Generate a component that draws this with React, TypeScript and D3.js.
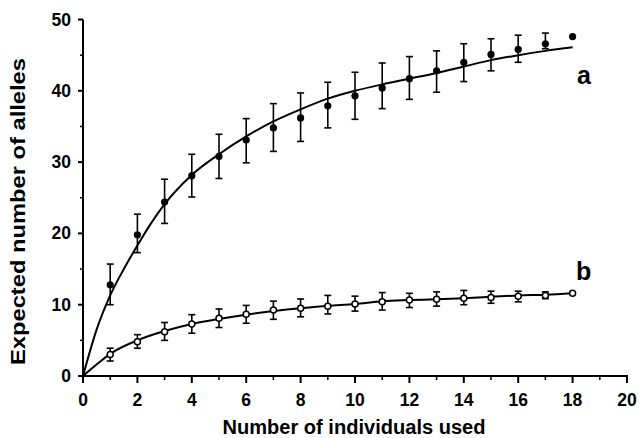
import React from "react";
import * as d3 from "d3";

const xs = [1, 2, 3, 4, 5, 6, 7, 8, 9, 10, 11, 12, 13, 14, 15, 16, 17];
const aMean = [12.8, 19.8, 24.4, 28.1, 30.8, 33.1, 34.8, 36.2, 37.9, 39.3, 40.4, 41.7, 42.8, 44.0, 45.1, 45.8, 46.6];
const aHigh = [15.7, 22.7, 27.6, 31.1, 33.9, 36.1, 38.2, 39.7, 41.2, 42.6, 43.9, 44.8, 45.6, 46.6, 47.3, 47.8, 48.1];
const aLow = [10.0, 17.3, 21.4, 25.1, 27.7, 29.9, 31.5, 32.9, 34.8, 36.0, 37.5, 38.8, 39.8, 41.3, 42.8, 44.0, 45.9];
const bMean = [3.0, 4.8, 6.2, 7.3, 8.1, 8.65, 9.25, 9.5, 9.8, 10.1, 10.4, 10.65, 10.75, 10.9, 11.0, 11.2, 11.3];
const bHigh = [3.9, 5.8, 7.5, 8.6, 9.4, 9.9, 10.5, 10.8, 11.3, 11.2, 11.7, 11.6, 11.8, 12.0, 11.9, 11.9, 11.8];
const bLow = [2.1, 3.9, 5.0, 6.0, 6.8, 7.4, 7.95, 8.3, 8.7, 9.1, 9.25, 9.6, 9.8, 10.0, 10.2, 10.4, 10.85];
const endX = 18;
const aEnd = 47.6;
const bEnd = 11.6;

const curveAX = [0, 0.5, 1, 1.5, 2, 2.5, 3, 4, 5, 6, 7, 8, 9, 10, 11, 12, 13, 14, 15, 16, 17, 18];
const curveAY = [0, 6.5, 11.3, 15.0, 18.3, 21.4, 24.1, 28.2, 31.1, 33.6, 35.7, 37.4, 38.9, 40.0, 40.9, 41.7, 42.5, 43.4, 44.3, 45.0, 45.6, 46.1];
const curveBX = [0, 0.5, 1, 2, 3, 4, 5, 6, 7, 8, 9, 10, 11, 12, 13, 14, 15, 16, 17, 18];
const curveBY = [0, 1.6, 3.1, 5.0, 6.3, 7.3, 8.0, 8.6, 9.1, 9.5, 9.85, 10.1, 10.5, 10.65, 10.75, 10.9, 11.1, 11.3, 11.4, 11.6];

const xMajor = [0, 2, 4, 6, 8, 10, 12, 14, 16, 18, 20];
const xMinor = [1, 3, 5, 7, 9, 11, 13, 15, 17, 19];
const yMajor = [0, 10, 20, 30, 40, 50];
const yMinor = [5, 15, 25, 35, 45];

const FONT = "'Liberation Sans', Arial, Helvetica, sans-serif";

export default function App() {
  const x = d3.scaleLinear().domain([0, 20]).range([83, 627]);
  const y = d3.scaleLinear().domain([0, 50]).range([376, 19.5]);
  const line = d3
    .line<[number, number]>()
    .x((d) => x(d[0]))
    .y((d) => y(d[1]))
    .curve(d3.curveMonotoneX);
  const aPath = line(curveAX.map((v, i) => [v, curveAY[i]]));
  const bPath = line(curveBX.map((v, i) => [v, curveBY[i]]));
  const cap = 3.5;

  const errBars = (low: number[], high: number[], key: string) =>
    xs.map((v, i) => (
      <g key={key + i} stroke="#000" strokeWidth={1.6}>
        <line x1={x(v)} x2={x(v)} y1={y(low[i])} y2={y(high[i])} />
        <line x1={x(v) - cap} x2={x(v) + cap} y1={y(low[i])} y2={y(low[i])} />
        <line x1={x(v) - cap} x2={x(v) + cap} y1={y(high[i])} y2={y(high[i])} />
      </g>
    ));

  return (
    <svg
      width={640}
      height={438}
      style={{ position: "absolute", left: 0, top: 0, background: "#fff" }}
      fontFamily={FONT}
    >
      <rect width={640} height={438} fill="#fff" />
      <line x1={x(0)} x2={x(0)} y1={y(0) + 1} y2={y(50)} stroke="#000" strokeWidth={2} />
      <line x1={x(0) - 1} x2={x(20) + 1} y1={y(0)} y2={y(0)} stroke="#000" strokeWidth={2} />
      {yMajor.map((v) => (
        <g key={"ym" + v}>
          <line x1={x(0) - 5} x2={x(0)} y1={y(v)} y2={y(v)} stroke="#000" strokeWidth={2} />
          <text x={71} y={y(v) + 6} textAnchor="end" fontSize={17.5} fontWeight="bold">
            {v}
          </text>
        </g>
      ))}
      {yMinor.map((v) => (
        <line key={"yn" + v} x1={x(0) - 3} x2={x(0)} y1={y(v)} y2={y(v)} stroke="#000" strokeWidth={1.5} />
      ))}
      {xMajor.map((v) => (
        <g key={"xm" + v}>
          <line x1={x(v)} x2={x(v)} y1={y(0)} y2={y(0) + 7} stroke="#000" strokeWidth={2} />
          <text x={x(v)} y={406} textAnchor="middle" fontSize={17.5} fontWeight="bold">
            {v}
          </text>
        </g>
      ))}
      {xMinor.map((v) => (
        <line key={"xn" + v} x1={x(v)} x2={x(v)} y1={y(0)} y2={y(0) + 4} stroke="#000" strokeWidth={1.5} />
      ))}
      <text
        x={354}
        y={434}
        textAnchor="middle"
        fontSize={20}
        fontWeight="bold"
        textLength={263}
        lengthAdjust="spacingAndGlyphs"
      >
        Number of individuals used
      </text>
      <text
        transform={`translate(25, 211.5) rotate(-90)`}
        textAnchor="middle"
        fontSize={20}
        fontWeight="bold"
        textLength={307}
        lengthAdjust="spacingAndGlyphs"
      >
        Expected number of alleles
      </text>

      <path d={aPath ?? ""} fill="none" stroke="#000" strokeWidth={2} />
      <path d={bPath ?? ""} fill="none" stroke="#000" strokeWidth={2} />

      {errBars(aLow, aHigh, "ea")}
      {errBars(bLow, bHigh, "eb")}

      {xs.map((v, i) => (
        <circle key={"pa" + i} cx={x(v)} cy={y(aMean[i])} r={3.6} fill="#000" />
      ))}
      <circle cx={x(endX)} cy={y(aEnd)} r={3.6} fill="#000" />
      {xs.map((v, i) => (
        <circle key={"pb" + i} cx={x(v)} cy={y(bMean[i])} r={3} fill="#fff" stroke="#000" strokeWidth={1.5} />
      ))}
      <circle cx={x(endX)} cy={y(bEnd)} r={3} fill="#fff" stroke="#000" strokeWidth={1.5} />

      <text x={577} y={84} fontSize={25} fontWeight="bold">
        a
      </text>
      <text x={576} y={280} fontSize={25} fontWeight="bold">
        b
      </text>
    </svg>
  );
}
